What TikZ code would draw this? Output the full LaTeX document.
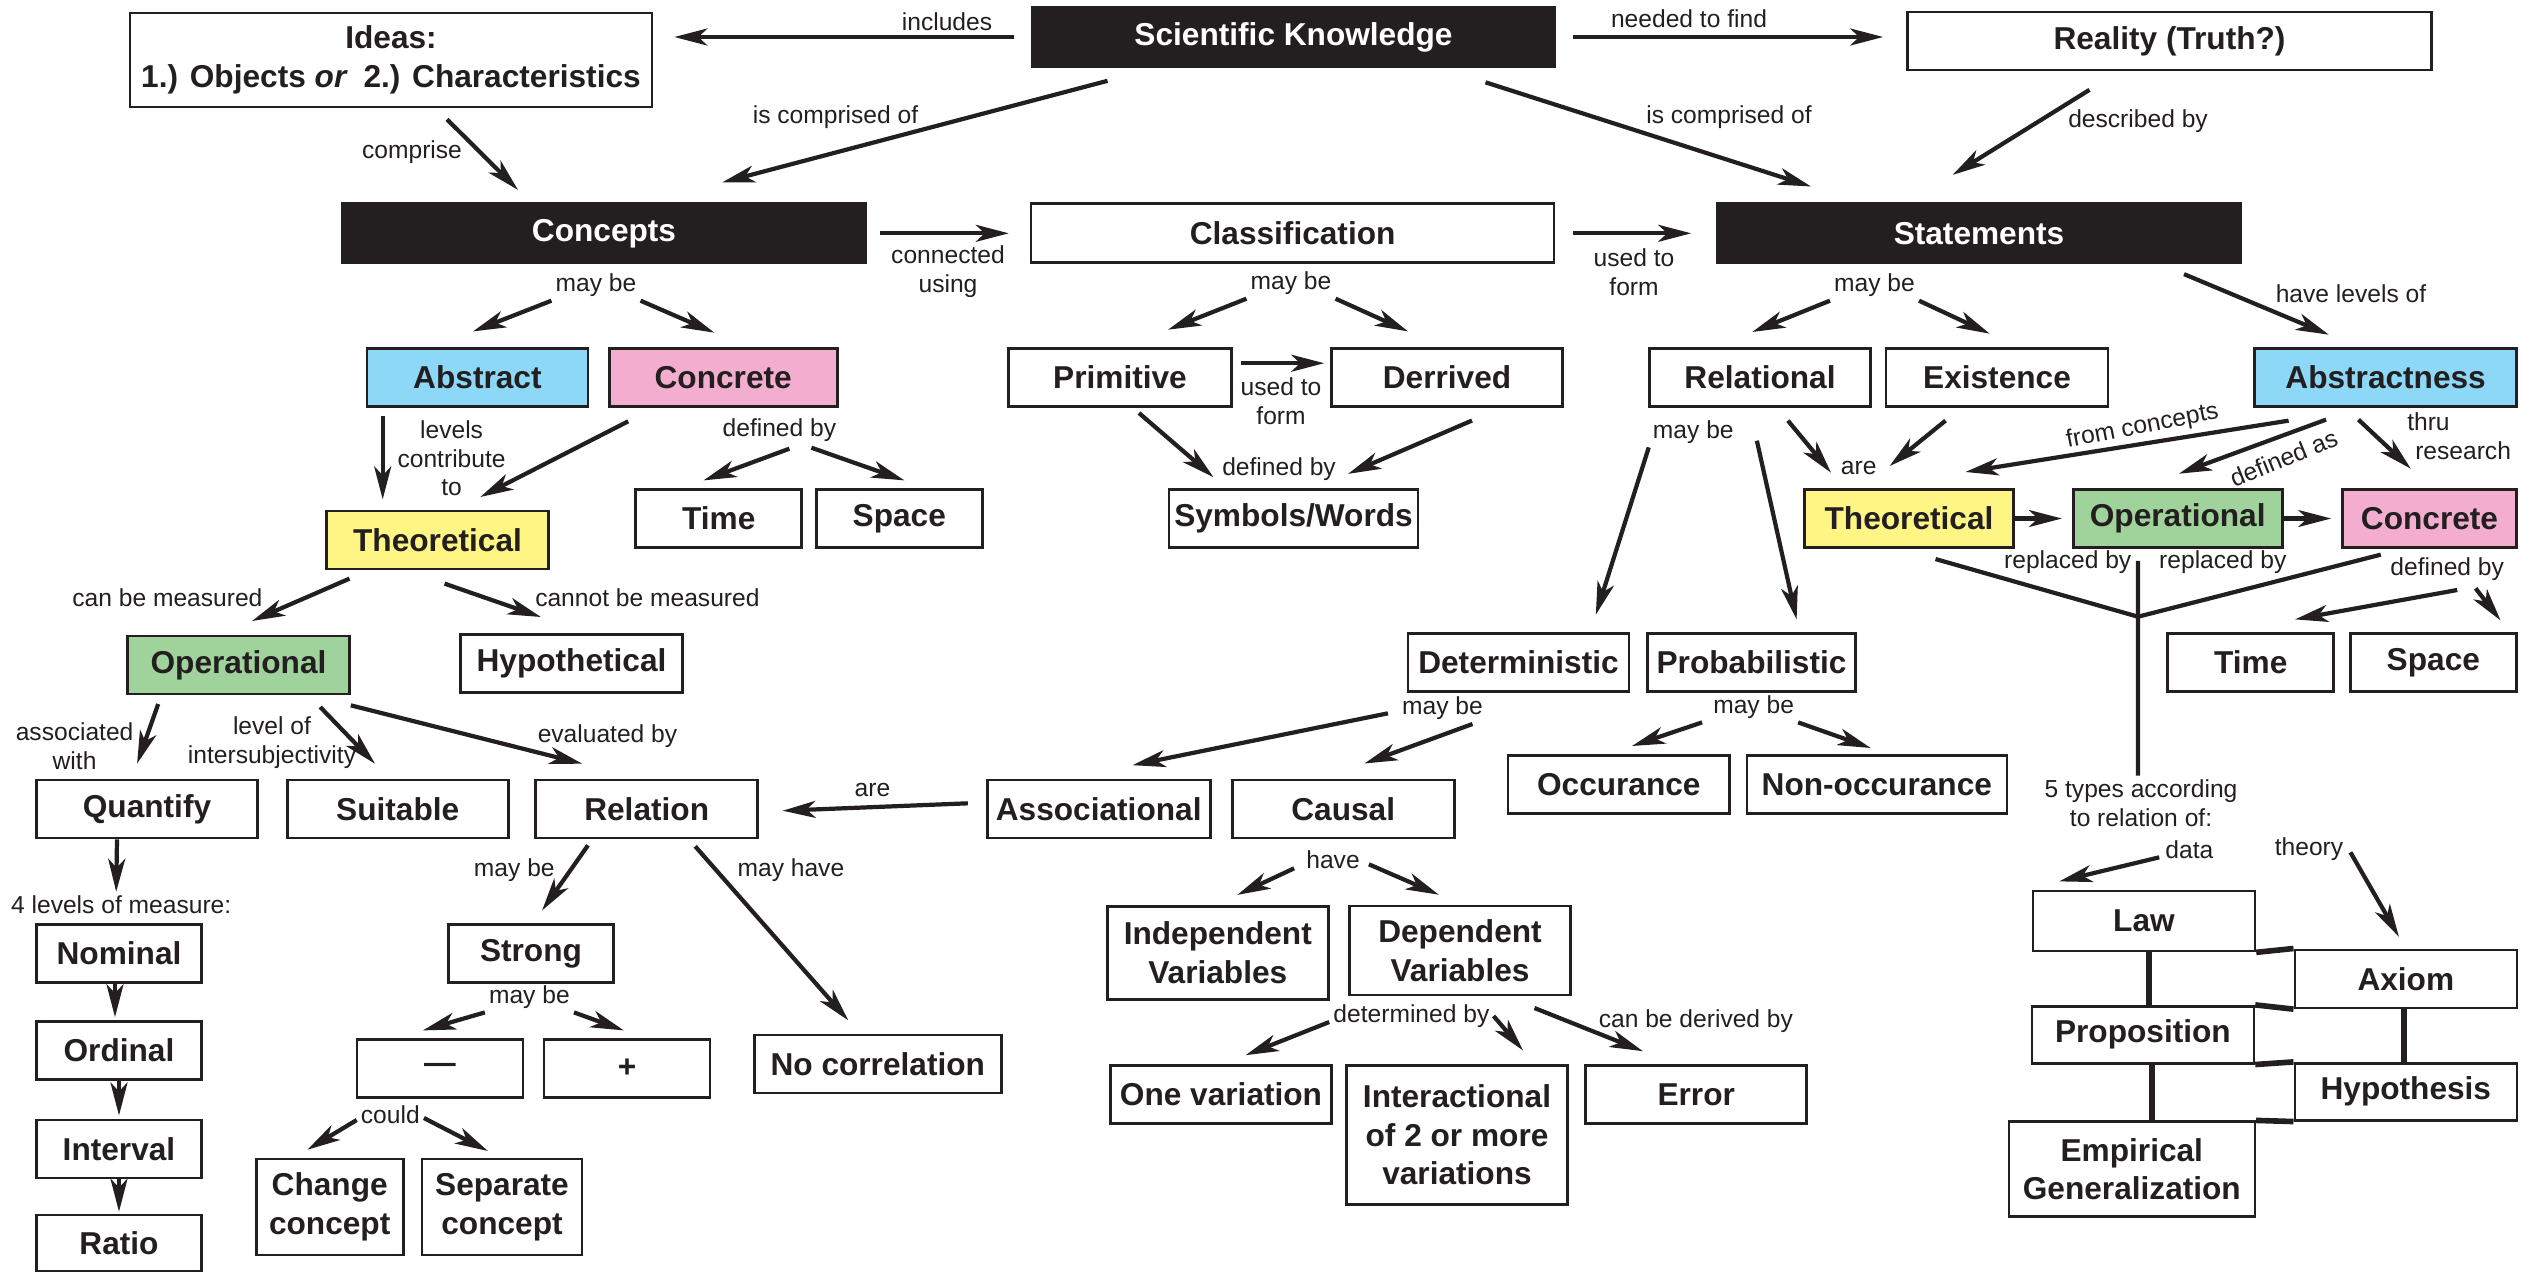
\documentclass[tikz,border=0pt]{standalone}
\usepackage{fontspec}
\setmainfont{Liberation Sans}
\usetikzlibrary{arrows.meta}
\definecolor{abstractblue}{RGB}{141,216,247}
\definecolor{concretepink}{RGB}{243,173,206}
\definecolor{theoyellow}{RGB}{255,245,133}
\definecolor{operagreen}{RGB}{160,210,155}
\definecolor{keyblack}{RGB}{35,31,32}
\tikzset{
  box/.style={draw=keyblack,line width=0.75pt,fill=white,text=keyblack,font=\bfseries\fontsize{9}{11}\selectfont,align=center,inner sep=1pt,minimum height=5.8mm},
  keybox/.style={box,fill=keyblack,text=white,minimum width=52.3mm,minimum height=5.9mm},
  lbl/.style={text=keyblack,font=\fontsize{7}{8.2}\selectfont,align=center,inner sep=1pt},
  arr/.style={draw=keyblack,line width=1.2pt,-{Stealth[length=3.3mm,width=1.7mm,inset=0.9mm]}},
  link/.style={draw=keyblack,line width=1.2pt},
  brick/.style={draw=keyblack,line width=1.6pt}
}
\begin{document}
\begin{tikzpicture}
\useasboundingbox (0,0) rectangle (25.32,-12.72);

\node[box,minimum width=52.2mm,minimum height=9.4mm] (ideas) at (3.91,-0.6) {Ideas:\\1.) Objects \textit{or}\enspace 2.) Characteristics};
\node[keybox] (sk) at (12.935,-0.37) {Scientific Knowledge};
\node[box,minimum width=52.4mm] (reality) at (21.695,-0.41) {Reality (Truth?)};
\node[lbl] (incl) at (9.47,-0.22) {includes};
\node[lbl] (need) at (16.89,-0.19) {needed to find};
\node[lbl] (compL) at (8.355,-1.17) {is comprised of};
\node[lbl] (compR) at (17.29,-1.17) {is comprised of};
\node[lbl] (descr) at (21.38,-1.21) {described by};
\node[lbl] (compr) at (4.12,-1.52) {comprise};

\node[keybox] (concepts) at (6.04,-2.333) {Concepts};
\node[box,minimum width=52.3mm,minimum height=5.9mm] (classif) at (12.926,-2.333) {Classification};
\node[keybox] (statements) at (19.79,-2.333) {Statements};
\node[lbl] (conn) at (9.48,-2.72) {connected\\using};
\node[lbl] (form1) at (16.34,-2.72) {used to\\form};
\node[lbl] (mbC) at (5.96,-2.85) {may be};
\node[lbl] (mbCl) at (12.91,-2.83) {may be};
\node[lbl] (mbS) at (18.745,-2.85) {may be};
\node[lbl] (levof) at (23.51,-2.94) {have levels of};

\node[box,minimum width=22.1mm,fill=abstractblue] (abstract) at (4.774,-3.772) {Abstract};
\node[box,minimum width=22.8mm,fill=concretepink] (concrete) at (7.232,-3.772) {Concrete};
\node[box,minimum width=22.3mm] (primitive) at (11.2,-3.772) {Primitive};
\node[box,minimum width=23.1mm] (derrived) at (14.47,-3.772) {Derrived};
\node[box,minimum width=22.1mm] (relational) at (17.6,-3.772) {Relational};
\node[box,minimum width=22.2mm] (existence) at (19.97,-3.772) {Existence};
\node[box,minimum width=26.2mm,fill=abstractblue] (abstractness) at (23.856,-3.772) {Abstractness};
\node[lbl] (form2) at (12.81,-4.01) {used to\\form};
\node[lbl] (lvc) at (4.516,-4.583) {levels\\contribute\\to};
\node[lbl] (dbC) at (7.794,-4.3) {defined by};
\node[lbl] (dbS) at (12.79,-4.69) {defined by};
\node[lbl] (mbR) at (16.933,-4.317) {may be};
\node[lbl] (areR) at (18.587,-4.683) {are};
\node[lbl,rotate=11] (fromc) at (21.425,-4.267) {from concepts};
\node[lbl,rotate=22] (defas) at (22.836,-4.583) {defined as};
\node[lbl,align=left,anchor=west] (thru) at (24.03,-4.36) {thru\\\hspace{0.8mm}research};

\node[box,minimum width=22.2mm,fill=theoyellow] (theoL) at (4.375,-5.4) {Theoretical};
\node[box,minimum width=16.6mm] (timeL) at (7.188,-5.185) {Time};
\node[box,minimum width=16.6mm] (spaceL) at (8.993,-5.185) {Space};
\node[box,minimum width=24.9mm] (symbols) at (12.935,-5.185) {Symbols/Words};
\node[box,minimum width=20.85mm,fill=theoyellow] (theoR) at (19.09,-5.185) {Theoretical};
\node[box,minimum width=20.9mm,fill=operagreen] (operR) at (21.777,-5.185) {Operational};
\node[box,minimum width=17.4mm,fill=concretepink] (concR) at (24.295,-5.185) {Concrete};
\node[lbl] (cbm) at (1.674,-5.977) {can be measured};
\node[lbl] (cnbm) at (6.474,-5.977) {cannot be measured};
\node[lbl] (rep1) at (20.677,-5.623) {replaced by};
\node[lbl] (rep2) at (22.228,-5.623) {replaced by};
\node[lbl] (dbR) at (24.472,-5.693) {defined by};

\node[box,minimum width=22.2mm,fill=operagreen] (operL) at (2.385,-6.65) {Operational};
\node[box,minimum width=22.2mm] (hypo) at (5.715,-6.632) {Hypothetical};
\node[box,minimum width=22.1mm] (determ) at (15.185,-6.625) {Deterministic};
\node[box,minimum width=20.8mm] (probab) at (17.515,-6.625) {Probabilistic};
\node[box,minimum width=16.6mm] (timeR) at (22.507,-6.625) {Time};
\node[box,minimum width=16.6mm] (spaceR) at (24.333,-6.625) {Space};
\node[lbl] (assw) at (0.746,-7.462) {associated\\with};
\node[lbl] (lvl) at (2.72,-7.428) {level of\\intersubjectivity};
\node[lbl] (evby) at (6.075,-7.36) {evaluated by};
\node[lbl] (areL) at (8.724,-7.9) {are};
\node[lbl] (mbD) at (14.425,-7.083) {may be};
\node[lbl] (mbP) at (17.536,-7.067) {may be};
\node[lbl] (fivet) at (21.41,-8.033) {5 types according\\to relation of:};

\node[box,minimum width=22.1mm] (quantify) at (1.47,-8.09) {Quantify};
\node[box,minimum width=22.1mm] (suitable) at (3.977,-8.09) {Suitable};
\node[box,minimum width=22.2mm] (relation) at (6.467,-8.09) {Relation};
\node[box,minimum width=22.3mm] (assoc) at (10.987,-8.088) {Associational};
\node[box,minimum width=22.2mm] (causal) at (13.432,-8.088) {Causal};
\node[box,minimum width=22.15mm] (occur) at (16.188,-7.847) {Occurance};
\node[box,minimum width=26mm] (nonoccur) at (18.768,-7.847) {Non-occurance};
\node[lbl] (lev4) at (1.212,-9.05) {4 levels of measure:};
\node[lbl] (mbRl) at (5.143,-8.7) {may be};
\node[lbl] (mhave) at (7.909,-8.7) {may have};
\node[lbl] (have) at (13.33,-8.593) {have};
\node[lbl] (data) at (21.894,-8.493) {data};
\node[lbl] (theory) at (23.09,-8.493) {theory};

\node[box,minimum width=16.5mm] (nominal) at (1.19,-9.533) {Nominal};
\node[box,minimum width=16.5mm] (strong) at (5.31,-9.533) {Strong};
\node[box,minimum width=22.1mm,minimum height=9.3mm] (indep) at (12.178,-9.527) {Independent\\Variables};
\node[box,minimum width=22.1mm,minimum height=8.9mm] (depend) at (14.6,-9.505) {Dependent\\Variables};
\node[box,minimum width=22.2mm,minimum height=6mm] (law) at (21.439,-9.21) {Law};
\node[box,minimum width=22.2mm] (axiom) at (24.058,-9.788) {Axiom};
\node[lbl] (mbSt) at (5.294,-9.967) {may be};
\node[lbl] (detBy) at (14.114,-10.16) {determined by};
\node[lbl] (cbd) at (16.959,-10.207) {can be derived by};

\node[box,minimum width=16.5mm] (ordinal) at (1.19,-10.505) {Ordinal};
\node[box,minimum width=16.6mm] (minus) at (4.4,-10.685) {\textemdash};
\node[box,minimum width=16.6mm] (plus) at (6.27,-10.685) {+};
\node[box,minimum width=24.7mm] (nocorr) at (8.778,-10.64) {No correlation};
\node[box,minimum width=22.1mm] (onevar) at (12.21,-10.945) {One variation};
\node[box,minimum width=22.1mm,minimum height=13.9mm] (interact) at (14.57,-11.35) {Interactional\\of 2 or more\\variations};
\node[box,minimum width=22.1mm] (error) at (16.962,-10.945) {Error};
\node[box,minimum width=22.2mm,minimum height=5.7mm] (propos) at (21.429,-10.347) {Proposition};
\node[box,minimum width=22.2mm,minimum height=5.7mm] (hypoth) at (24.058,-10.917) {Hypothesis};

\node[box,minimum width=16.5mm] (interval) at (1.19,-11.488) {Interval};
\node[lbl] (could) at (3.903,-11.15) {could};
\node[box,minimum width=14.7mm,minimum height=9.6mm] (change) at (3.297,-12.07) {Change\\concept};
\node[box,minimum width=16mm,minimum height=9.6mm] (separate) at (5.02,-12.07) {Separate\\concept};
\node[box,minimum width=24.6mm,minimum height=9.5mm] (empir) at (21.318,-11.692) {Empirical\\Generalization};
\node[box,minimum width=16.5mm,minimum height=5.6mm] (ratio) at (1.19,-12.43) {Ratio};

\draw[arr] ([xshift=-1.7mm]sk.west) -- ([xshift=2.1mm]ideas.east |- sk.west);
\draw[arr] ([xshift=1.7mm]sk.east) -- ([xshift=-2.3mm]reality.west |- sk.east);
\draw[arr] ([shift={(-1.86,-0.13)}]sk.south) -- ([shift={(1.18,0.2)}]concepts.north);
\draw[arr] ([shift={(1.92,-0.145)}]sk.south) -- ([shift={(-1.68,0.16)}]statements.north);
\draw[arr] ([shift={(-0.8,-0.185)}]reality.south) -- ([shift={(-0.264,0.276)}]statements.north);
\draw[arr] ([shift={(0.56,-0.11)}]ideas.south) -- ([shift={(-0.86,0.126)}]concepts.north);
\draw[arr] ([xshift=1.3mm]concepts.east) -- ([xshift=-2.1mm]classif.west);
\draw[arr] ([xshift=1.8mm]classif.east) -- ([xshift=-2.5mm]statements.west);

\draw[arr] (mbC.south west) -- ([shift={(-0.044,0.155)}]abstract.north);
\draw[arr] (mbC.south east) -- ([shift={(-0.089,0.142)}]concrete.north);
\draw[arr] (mbCl.south west) -- ([shift={(0.48,0.172)}]primitive.north);
\draw[arr] (mbCl.south east) -- ([shift={(-0.39,0.155)}]derrived.north);
\draw[arr] (mbS.south west) -- ([shift={(-0.078,0.149)}]relational.north);
\draw[arr] (mbS.south east) -- ([shift={(-0.073,0.132)}]existence.north);
\draw[arr] ([shift={(2.05,-0.1)}]statements.south) -- ([shift={(-0.568,0.122)}]abstractness.north);
\draw[arr] ([shift={(0.08,0.14)}]primitive.east) -- ([shift={(-0.06,0.14)}]derrived.west);
\draw[arr] ([shift={(0.19,-0.055)}]primitive.south) -- ([shift={(-0.80,0.11)}]symbols.north);
\draw[arr] ([shift={(0.25,-0.13)}]derrived.south) -- ([shift={(0.545,0.143)}]symbols.north);

\draw[arr] ([shift={(-0.947,-0.08)}]abstract.south) -- ([shift={(-0.548,0.103)}]theoL.north);
\draw[arr] ([shift={(-0.95,-0.138)}]concrete.south) -- ([shift={(0.428,0.127)}]theoL.north);
\draw[arr] ([shift={(0.1,-0.03)}]dbC.south) -- ([shift={(-0.153,0.078)}]timeL.north);
\draw[arr] ([shift={(0.32,-0.02)}]dbC.south) -- ([shift={(0.051,0.078)}]spaceL.north);
\draw[arr] ([shift={(-0.88,-0.083)}]theoL.south) -- ([shift={(0.135,0.137)}]operL.north);
\draw[arr] ([shift={(0.071,-0.133)}]theoL.south) -- ([shift={(-0.307,0.159)}]hypo.north);
\draw[arr] ([shift={(-0.803,-0.087)}]operL.south) -- ([shift={(-0.099,0.15)}]quantify.north);
\draw[arr] ([shift={(0.817,-0.117)}]operL.south) -- ([shift={(-0.227,0.15)}]suitable.north);
\draw[arr] ([shift={(1.123,-0.1)}]operL.south) -- ([shift={(-0.644,0.15)}]relation.north);
\draw[arr] ([shift={(-0.181,0.055)}]assoc.west) -- ([shift={(0.236,-0.017)}]relation.east);
\draw[arr] ([shift={(-0.587,-0.06)}]relation.south) -- ([shift={(0.111,0.126)}]strong.north);
\draw[arr] ([shift={(0.485,-0.07)}]relation.south) -- ([shift={(-0.295,0.133)}]nocorr.north);
\draw[arr] (mbSt.south west) -- ([shift={(-0.171,0.078)}]minus.north);
\draw[arr] (mbSt.south east) -- ([shift={(-0.032,0.078)}]plus.north);
\draw[arr] ([yshift=-0.5mm]could.west) -- ([shift={(-0.223,0.08)}]change.north);
\draw[arr] ([yshift=-0.3mm]could.east) -- ([shift={(-0.141,0.067)}]separate.north);

\draw[arr] ([xshift=-3mm]quantify.south) -- ([xshift=-0.5mm]lev4.north);
\draw[arr] ([xshift=-0.4mm]nominal.south) -- ([xshift=-0.4mm,yshift=0.3mm]ordinal.north);
\draw[arr] (ordinal.south) -- ([yshift=0.3mm]interval.north);
\draw[arr] (interval.south) -- ([yshift=0.2mm]ratio.north);

\draw[arr] ([shift={(0.279,-0.131)}]relational.south) -- ([shift={(-0.78,0.155)}]theoR.north);
\draw[arr] ([shift={(-0.515,-0.131)}]existence.south) -- ([shift={(-0.194,0.222)}]theoR.north);
\draw[arr] ([shift={(-0.97,-0.131)}]abstractness.south) -- ([shift={(0.564,0.162)}]theoR.north);
\draw[arr] ([shift={(-0.596,-0.121)}]abstractness.south) -- ([shift={(0.012,0.145)}]operR.north);
\draw[arr] ([shift={(-0.272,-0.121)}]abstractness.south) -- ([shift={(-0.187,0.195)}]concR.north);
\draw[arr] (theoR.east) -- ([xshift=-1mm]operR.west);
\draw[arr] (operR.east) -- ([xshift=-1mm]concR.west);
\draw[arr] (mbR.south west) -- ([shift={(0.773,0.175)}]determ.north);
\draw[arr] ([shift={(0.19,-0.09)}]mbR.east) -- ([shift={(0.451,0.128)}]probab.north);
\draw[arr] ([shift={(-0.1,-0.05)}]mbD.west) -- ([shift={(0.338,0.133)}]assoc.north);
\draw[arr] ([xshift=3mm]mbD.south) -- ([shift={(0.212,0.15)}]causal.north);
\draw[arr] ([xshift=-0.7mm]mbP.south west) -- ([shift={(0.132,0.084)}]occur.north);
\draw[arr] (mbP.south east) -- ([shift={(-0.061,0.064)}]nonoccur.north);

\draw[arr] ([shift={(-0.08,-0.09)}]have.west) -- ([shift={(0.195,0.1)}]indep.north);
\draw[arr] ([shift={(0.05,-0.05)}]have.east) -- ([shift={(-0.212,0.1)}]depend.north);
\draw[arr] ([yshift=-0.6mm]detBy.west) -- ([shift={(0.246,0.09)}]onevar.north);
\draw[arr] (detBy.east) -- ([shift={(0.66,0.138)}]interact.north);
\draw[arr] ([shift={(0.745,-0.117)}]depend.south) -- ([shift={(-0.533,0.13)}]error.north);

\coordinate (fork) at (21.38,-6.167);
\draw[link] ([shift={(0.265,-0.102)}]theoR.south) -- (fork) -- ([shift={(-0.487,-0.058)}]concR.south);
\draw[link] ([shift={(-0.397,-0.12)}]operR.south) -- (fork |- fivet.north);
\draw[arr] ([shift={(0.1,-0.05)}]dbR.south) -- ([shift={(0.443,0.128)}]timeR.north);
\draw[arr] ([shift={(0.284,-0.034)}]dbR.south) -- ([shift={(0.672,0.118)}]spaceR.north);
\draw[arr] ([shift={(-0.02,-0.08)}]data.west) -- ([shift={(-0.847,0.083)}]law.north);
\draw[arr] ([shift={(0.03,-0.03)}]theory.east) -- ([shift={(-0.069,0.117)}]axiom.north);

\draw[brick] ([xshift=0.5mm]law.south) -- ([xshift=0.5mm]law.south |- propos.north);
\draw[brick] ([xshift=0.9mm]propos.south) -- ([xshift=0.9mm]propos.south |- empir.north);
\draw[brick] ([xshift=-0.2mm]axiom.south) -- ([xshift=-0.2mm]axiom.south |- hypoth.north);
\draw[brick] (law.south east) -- (axiom.north west);
\draw[brick] (axiom.south west) -- (propos.north east);
\draw[brick] (propos.south east) -- (hypoth.north west);
\draw[brick] (hypoth.south west) -- (empir.north east);
\end{tikzpicture}
\end{document}
